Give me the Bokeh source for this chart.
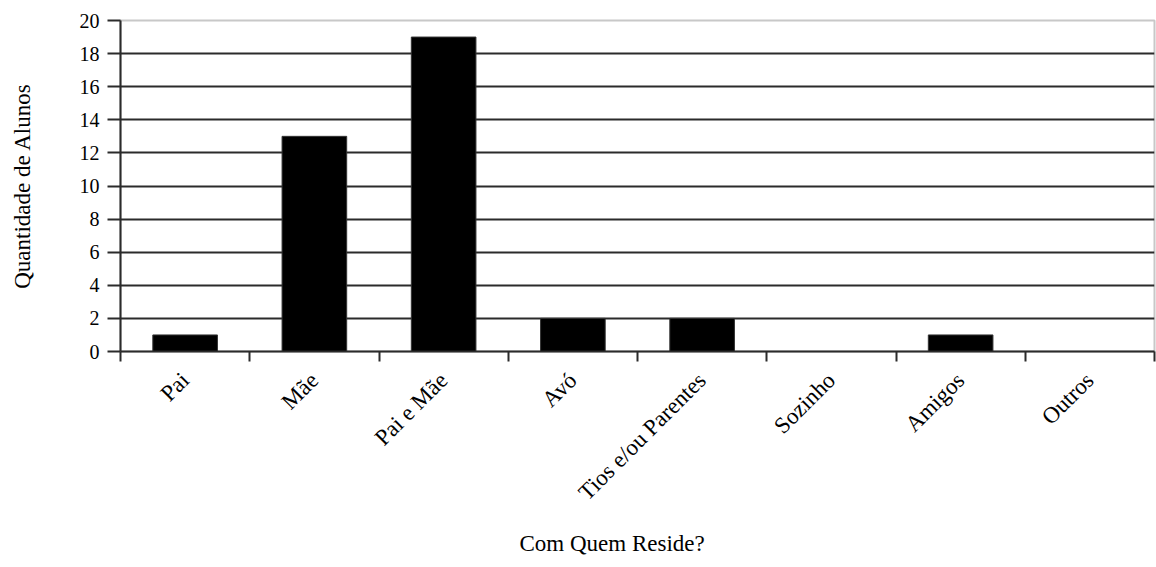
from math import pi
from bokeh.plotting import figure
from bokeh.models import FactorRange, Range1d, LinearAxis, FixedTicker, Title
from bokeh.embed import file_html
from bokeh.resources import INLINE

categories = ["Pai", "Mãe", "Pai e Mãe", "Avó", "Tios e/ou Parentes",
              "Sozinho", "Amigos", "Outros"]
alunos = [1, 13, 19, 2, 2, 0, 1, 0]
y_ticks = [0, 2, 4, 6, 8, 10, 12, 14, 16, 18, 20]

FONT = "Liberation Serif"
DARK = "#2b2b2b"

p = figure(width=1156, height=567, x_range=FactorRange(factors=categories),
           y_range=Range1d(0, 20), x_axis_location=None,
           output_backend="svg", toolbar_location=None,
           min_border_left=120, min_border_right=2,
           min_border_top=20, min_border_bottom=215)

p.vbar(x=categories, top=alunos, width=0.5, fill_color="black",
       line_color="#333333", line_width=1)

# x axis in the factor range's synthetic coordinates:
# labels at the category centres, tick marks on the boundaries between them
n = len(categories)
centres = [i + 0.5 for i in range(n)]
xax = LinearAxis(ticker=FixedTicker(ticks=centres,
                                    minor_ticks=list(range(n + 1))))
xax.major_label_overrides = {c: name for c, name in zip(centres, categories)}
xax.major_label_orientation = pi / 4
xax.major_label_text_font = FONT
xax.major_label_text_font_size = "23px"
xax.major_label_text_color = "black"
xax.major_label_standoff = 15
xax.major_tick_line_color = None
xax.major_tick_out = 0
xax.major_tick_in = 0
xax.minor_tick_out = 10
xax.minor_tick_in = 0
xax.minor_tick_line_color = DARK
xax.minor_tick_line_width = 2
xax.axis_line_color = DARK
xax.axis_line_width = 2
p.add_layout(xax, "below")

p.add_layout(Title(text="Com Quem Reside?", align="left", offset=399,
                   text_font=FONT, text_font_size="23px",
                   text_font_style="normal", text_color="black",
                   standoff=24), "below")

yax = p.yaxis[0]
yax.ticker = FixedTicker(ticks=y_ticks)
yax.axis_label = "Quantidade de Alunos"
yax.axis_label_text_font = FONT
yax.axis_label_text_font_size = "23px"
yax.axis_label_text_font_style = "normal"
yax.axis_label_text_color = "black"
yax.axis_label_standoff = 42
yax.major_label_text_font = FONT
yax.major_label_text_font_size = "20px"
yax.major_label_text_color = "black"
yax.major_label_standoff = 8
yax.major_tick_out = 13
yax.major_tick_in = 0
yax.major_tick_line_color = DARK
yax.major_tick_line_width = 2
yax.minor_tick_line_color = None
yax.axis_line_color = DARK
yax.axis_line_width = 2

p.xgrid.grid_line_color = None
p.ygrid.grid_line_color = DARK
p.ygrid.grid_line_width = 2
p.ygrid.ticker = FixedTicker(ticks=y_ticks)

p.outline_line_color = "#c8c8c8"
p.outline_line_width = 2
p.background_fill_color = "white"
p.border_fill_color = "white"

open("out.html", "w").write(file_html(p, INLINE))
